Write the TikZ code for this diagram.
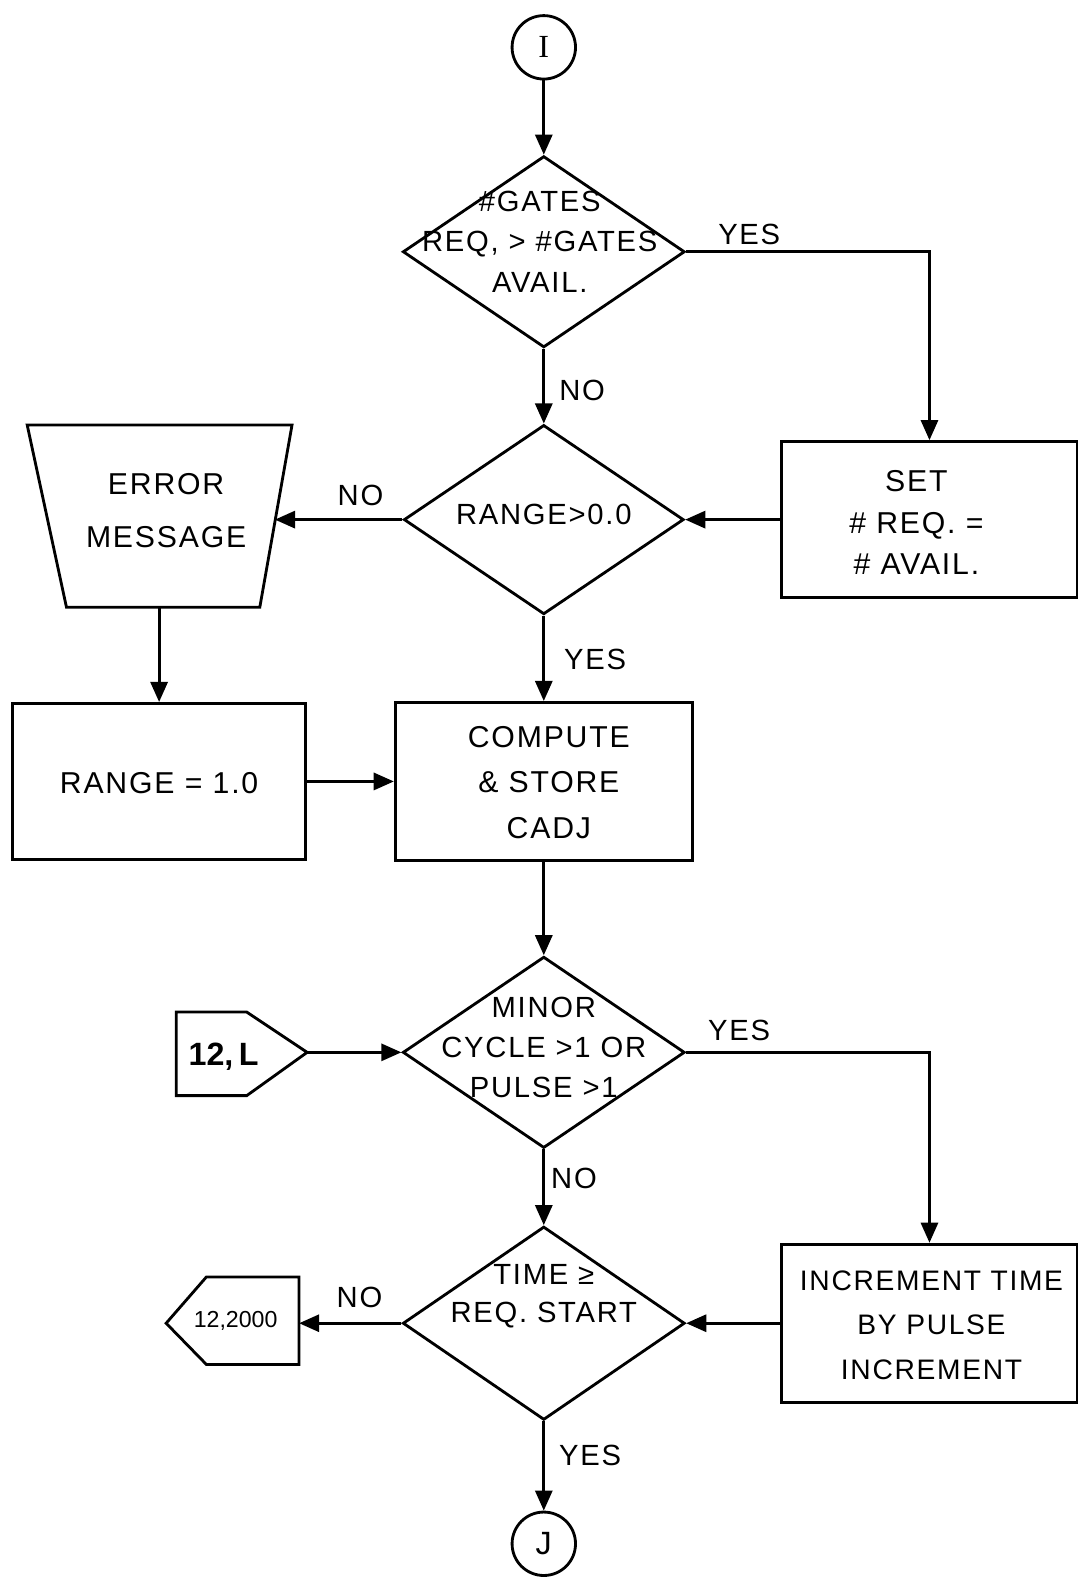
\documentclass[tikz,border=0pt]{standalone}
\usepackage{fontspec}
\setmainfont{Liberation Sans}[LetterSpace=6]
\newfontfamily\serifI{Liberation Serif}
\usetikzlibrary{arrows.meta,shapes.geometric}
\begin{document}
\begin{tikzpicture}[x=1pt,y=-1pt,line width=2.8pt,line join=miter,
  arr/.style={-{Triangle[length=20pt,width=17pt]}},
  dec/.style={draw,diamond,inner sep=0pt,minimum width=280pt,minimum height=190pt},
  box/.style={draw,rectangle,inner sep=0pt,minimum width=294pt,minimum height=156pt},
  conn/.style={draw,circle,inner sep=0pt,minimum size=63pt,font=\fontsize{32}{32}\selectfont},
  txt/.style={align=center,inner sep=0pt,font=\fontsize{30}{#1}\selectfont},
  dtxt/.style={align=center,inner sep=0pt,font=\fontsize{29}{#1}\selectfont},
  lbl/.style={inner sep=0pt,font=\fontsize{29}{30}\selectfont}]
\useasboundingbox (0,0) rectangle (1070,1568);
% nodes
\node[conn] (I) at (540,47) {\serifI I};
\node[dec] (d1) at (540,250) {};
\node[dtxt=40] (d1t) at (536,240) {\#GATES\\REQ, > \#GATES\\AVAIL.};
\node[dec,minimum height=188pt,minimum width=278pt] (d2) at (540,516) {};
\node[dtxt=40] (d2t) at (540,511) {RANGE>0.0};
\node[box,minimum height=155pt] (set) at (923,516) {};
\node[txt=41] (sett) at (910,519) {SET\\\# REQ. =\\\# AVAIL.};
% error message trapezoid
\coordinate (eTL) at (27,422);
\coordinate (eTR) at (290,422);
\coordinate (eBR) at (258,603);
\coordinate (eBL) at (66,603);
\coordinate (errE) at (273,516);
\coordinate (errS) at (158,603);
\draw (eTL) -- (eTR) -- (eBR) -- (eBL) -- cycle;
\node[txt=52] (errt) at (165,507) {ERROR\\MESSAGE};
\node[box,minimum width=291pt,minimum height=155pt] (range) at (158,776) {};
\node[txt=40] (ranget) at (158,778) {RANGE = 1.0};
\node[box,minimum width=295pt,minimum height=157pt] (comp) at (540,776) {};
\node[txt=45] (compt) at (545,777) {COMPUTE\\\& STORE\\CADJ};
\node[dec] (d3) at (540,1045) {};
\node[dtxt=40] (d3t) at (540,1040) {MINOR\\CYCLE >1 OR\\PULSE >1};
% off-page connector 12,L
\coordinate (s1a) at (175,1005);
\coordinate (s1b) at (245,1005);
\coordinate (s1E) at (305,1045);
\coordinate (s1c) at (245,1088);
\coordinate (s1d) at (175,1088);
\draw (s1a) -- (s1b) -- (s1E) -- (s1c) -- (s1d) -- cycle;
\node[inner sep=0pt,font=\fontsize{32}{32}\selectfont\bfseries\addfontfeature{LetterSpace=0}] (s1t) at (222,1049) {12,\,L};
\node[dec,minimum height=192pt] (d4) at (540,1314) {};
\node[dtxt=38] (d4t) at (540,1287) {TIME ≥\\REQ. START};
\node[box,minimum height=157pt] (inc) at (923,1314) {};
\node[txt=44,font=\fontsize{28}{44}\selectfont] (inct) at (925,1316) {INCREMENT TIME\\BY PULSE\\INCREMENT};
% off-page connector 12,2000
\coordinate (s2a) at (297,1268);
\coordinate (s2b) at (205,1268);
\coordinate (s2W) at (165,1314);
\coordinate (s2c) at (205,1355);
\coordinate (s2d) at (297,1355);
\coordinate (s2E) at (297,1314);
\draw (s2a) -- (s2b) -- (s2W) -- (s2c) -- (s2d) -- cycle;
\node[inner sep=0pt,font=\fontsize{23}{23}\selectfont\addfontfeature{LetterSpace=0}] (s2t) at (234,1312) {12,2000};
\node[conn] (J) at (540,1533) {J};
% labels
\node[lbl] (l1) at (744,233) {YES};
\node[lbl] (l2) at (578,388) {NO};
\node[lbl] (l3) at (358,492) {NO};
\node[lbl] (l4) at (591,655) {YES};
\node[lbl] (l5) at (734,1023) {YES};
\node[lbl] (l6) at (570,1170) {NO};
\node[lbl] (l7) at (357,1288) {NO};
\node[lbl] (l8) at (586,1445) {YES};
% connectors
\draw[arr] (I.south) -- (d1.north);
\draw[arr] (d1.east) -| (set.north);
\draw[arr] (d1.south) -- (d2.north);
\draw[arr] (set.west) -- (d2.east);
\draw[arr] (d2.west) -- (errE);
\draw[arr] (errS) -- (range.north);
\draw[arr] (d2.south) -- (comp.north);
\draw[arr] (range.east) -- (comp.west);
\draw[arr] (comp.south) -- (d3.north);
\draw[arr] (s1E) -- (d3.west);
\draw[arr] (d3.east) -| (inc.north);
\draw[arr] (d3.south) -- (d4.north);
\draw[arr] (inc.west) -- (d4.east);
\draw[arr] (d4.west) -- (s2E);
\draw[arr] (d4.south) -- (J.north);
\end{tikzpicture}
\end{document}
